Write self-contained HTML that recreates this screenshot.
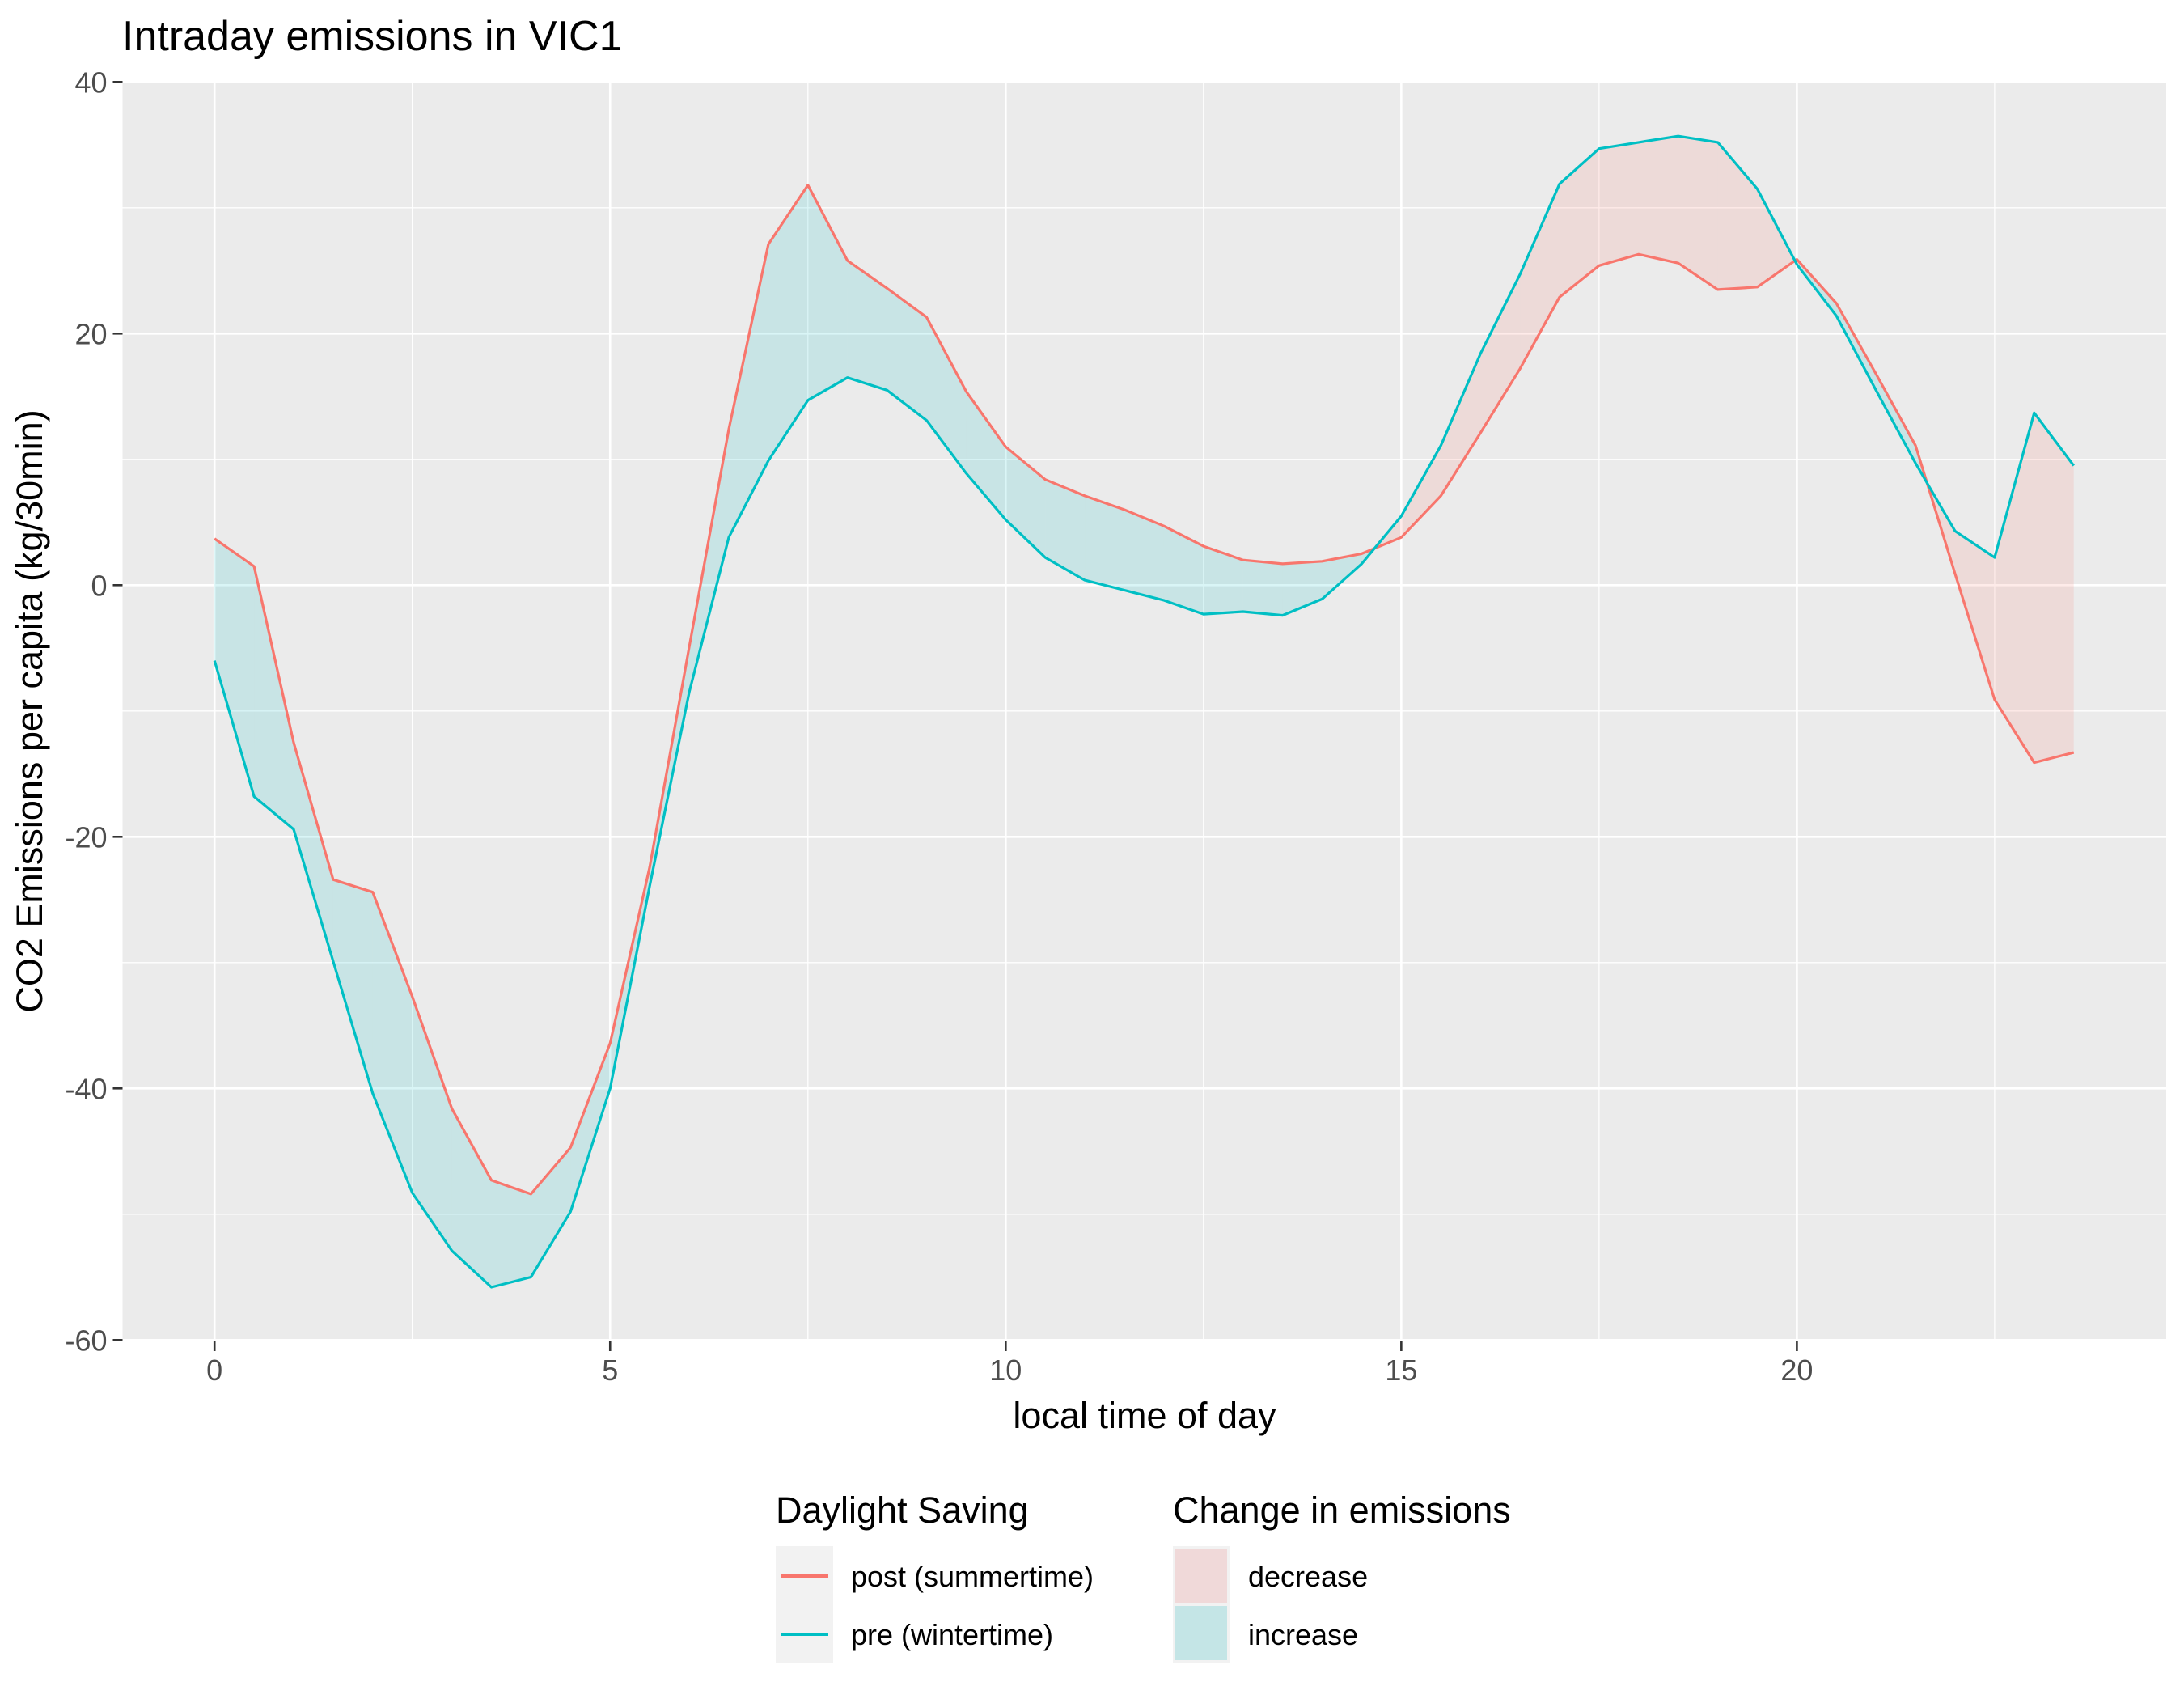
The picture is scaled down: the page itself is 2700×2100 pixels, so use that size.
<!DOCTYPE html>
<html><head><meta charset="utf-8">
<style>
html,body{margin:0;padding:0;background:#fff;}
svg{display:block;font-family:"Liberation Sans",Arial,sans-serif;}
</style></head>
<body>
<svg id="chart" width="2700" height="2100" viewBox="0 0 2700 2100" xmlns="http://www.w3.org/2000/svg">
<rect x="0" y="0" width="2700" height="2100" fill="#fff"/>
<text x="151" y="62" font-size="52" fill="#000">Intraday emissions in VIC1</text>
<g id="plot"></g>
<text x="1415" y="1765" font-size="45" text-anchor="middle" fill="#000">local time of day</text>
<text transform="translate(52,879) rotate(-90)" font-size="45" text-anchor="middle" fill="#000">CO2 Emissions per capita (kg/30min)</text>
<g>
<text x="959" y="1882" font-size="45" fill="#000">Daylight Saving</text>
<rect x="959" y="1911" width="71" height="145" fill="#F2F2F2"/>
<line x1="965" y1="1948" x2="1024" y2="1948" stroke="#F8766D" stroke-width="4"/>
<line x1="965" y1="2020" x2="1024" y2="2020" stroke="#00BFC4" stroke-width="4"/>
<text x="1052" y="1961" font-size="36" fill="#000">post (summertime)</text>
<text x="1052" y="2033" font-size="36" fill="#000">pre (wintertime)</text>
</g>
<g>
<text x="1450" y="1882" font-size="45" fill="#000">Change in emissions</text>
<rect x="1450" y="1911" width="70" height="145" fill="#F2F2F2"/>
<rect x="1453" y="1914" width="64" height="67" fill="#F0D9D9"/>
<rect x="1453" y="1985" width="64" height="67" fill="#C4E5E6"/>
<text x="1543" y="1961" font-size="36" fill="#000">decrease</text>
<text x="1543" y="2033" font-size="36" fill="#000">increase</text>
</g>
</svg>
<script>
const times = [0,0.5,1,1.5,2,2.5,3,3.5,4,4.5,5,5.5,6,6.5,7,7.5,8,8.5,9,9.5,10,10.5,11,11.5,12,12.5,13,13.5,14,14.5,15,15.5,16,16.5,17,17.5,18,18.5,19,19.5,20,20.5,21,21.5,22,22.5,23,23.5];
const postValues = [3.7,1.5,-12.5,-23.4,-24.4,-32.7,-41.6,-47.3,-48.4,-44.7,-36.4,-22.4,-4.9,12.4,27.1,31.8,25.8,23.6,21.3,15.4,11.0,8.4,7.1,6.0,4.7,3.1,2.0,1.7,1.9,2.5,3.8,7.1,12.1,17.2,22.9,25.4,26.3,25.6,23.5,23.7,25.9,22.4,16.8,11.1,0.9,-9.1,-14.1,-13.3];
const preValues = [-6.0,-16.8,-19.4,-29.9,-40.4,-48.3,-52.9,-55.8,-55.0,-49.8,-40.0,-23.9,-8.5,3.8,9.9,14.7,16.5,15.5,13.1,8.9,5.2,2.2,0.4,-0.4,-1.2,-2.3,-2.1,-2.4,-1.1,1.7,5.5,11.1,18.4,24.7,31.9,34.7,35.2,35.7,35.2,31.5,25.5,21.4,15.5,9.7,4.3,2.2,13.7,9.5];
const xTicks = [0,5,10,15,20];
const xMinor = [2.5,7.5,12.5,17.5,22.5];
const yTicks = [-60,-40,-20,0,20,40];
const yMinor = [-50,-30,-10,10,30];

const NS = "http://www.w3.org/2000/svg";
const PL=151.5, PR=2678, PT=100, PB=1658;
const xs = t => 265.2 + t*97.81;
const ys = v => 723.3 - v*15.55;
const g = document.getElementById('plot');
function mk(tag, attrs, parent){const e=document.createElementNS(NS,tag);for(const k in attrs)e.setAttribute(k,attrs[k]);(parent||g).appendChild(e);return e;}

const panel = mk('rect',{x:PL,y:PT,width:PR-PL,height:PB-PT,fill:'#EBEBEB'});



yMinor.forEach(v=>{const l=mk('line',{x1:PL,x2:PR,y1:ys(v),y2:ys(v),stroke:'#fff','stroke-width':1.3});

});
xMinor.forEach(t=>{const l=mk('line',{x1:xs(t),x2:xs(t),y1:PT,y2:PB,stroke:'#fff','stroke-width':1.3});

});
yTicks.forEach(v=>{const l=mk('line',{x1:PL,x2:PR,y1:ys(v),y2:ys(v),stroke:'#fff','stroke-width':2.6});


const tk=mk('line',{x1:PL-12,x2:PL,y1:ys(v),y2:ys(v),stroke:'#333','stroke-width':2.6});


const tx=mk('text',{x:PL-19,y:ys(v)+13,'font-size':36,'text-anchor':'end',fill:'#4D4D4D'});tx.textContent=v;

});
xTicks.forEach(t=>{const l=mk('line',{x1:xs(t),x2:xs(t),y1:PT,y2:PB,stroke:'#fff','stroke-width':2.6});


const tk=mk('line',{x1:xs(t),x2:xs(t),y1:PB,y2:PB+12,stroke:'#333','stroke-width':2.6});


const tx=mk('text',{x:xs(t),y:PB+48,'font-size':36,'text-anchor':'middle',fill:'#4D4D4D'});tx.textContent=t;

});

function addPoly(pts, inc){
  const p=mk('polygon',{points:pts.map(q=>q[0].toFixed(1)+','+q[1].toFixed(1)).join(' '),fill:inc?'#00BFC4':'#F8766D','fill-opacity':0.15,stroke:'none'});
  
  
}
for(let i=0;i<times.length-1;i++){
  const t0=times[i],t1=times[i+1],a0=postValues[i],a1=postValues[i+1],b0=preValues[i],b1=preValues[i+1];
  const d0=a0-b0,d1=a1-b1;
  if(d0*d1<0){
    const f=d0/(d0-d1);const tc=t0+f*(t1-t0);const vc=a0+f*(a1-a0);
    addPoly([[xs(t0),ys(a0)],[xs(tc),ys(vc)],[xs(t0),ys(b0)]],d0>0);
    addPoly([[xs(tc),ys(vc)],[xs(t1),ys(a1)],[xs(t1),ys(b1)]],d1>0);
  } else {
    addPoly([[xs(t0),ys(a0)],[xs(t1),ys(a1)],[xs(t1),ys(b1)],[xs(t0),ys(b0)]],(d0+d1)>0);
  }
}
const postLine=mk('polyline',{points:times.map((t,i)=>xs(t).toFixed(1)+','+ys(postValues[i]).toFixed(1)).join(' '),fill:'none',stroke:'#F8766D','stroke-width':3.2,'stroke-linejoin':'round'});


const preLine=mk('polyline',{points:times.map((t,i)=>xs(t).toFixed(1)+','+ys(preValues[i]).toFixed(1)).join(' '),fill:'none',stroke:'#00BFC4','stroke-width':3.2,'stroke-linejoin':'round'});


</script>
</body></html>
